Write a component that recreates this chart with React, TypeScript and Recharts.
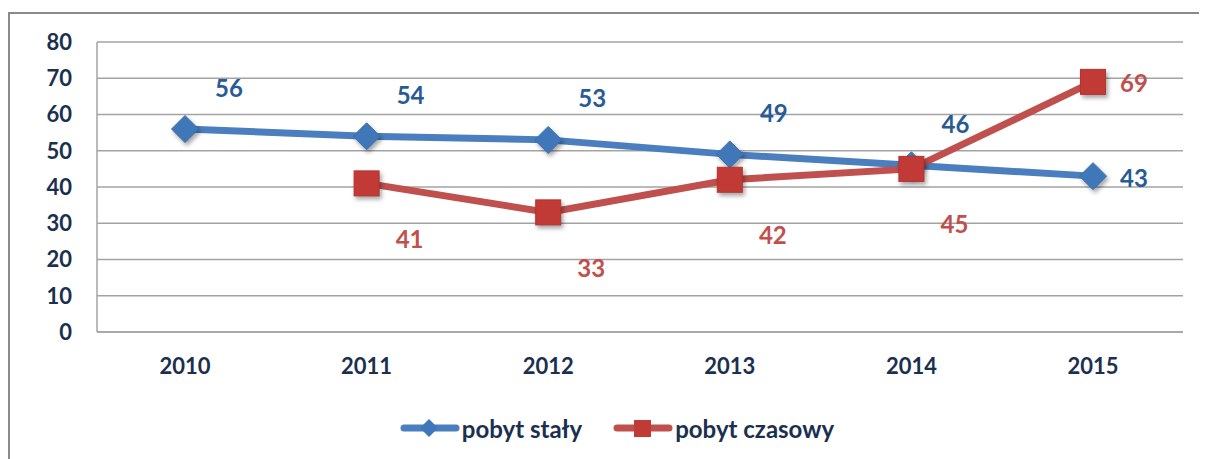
import React from 'react';
import { LineChart, Line, XAxis, YAxis, CartesianGrid, Legend, LabelList } from 'recharts';

const years = ['2010', '2011', '2012', '2013', '2014', '2015'];
const pobytStaly = [56, 54, 53, 49, 46, 43];
const pobytCzasowy: (number | null)[] = [null, 41, 33, 42, 45, 69];
const yTicks = [0, 10, 20, 30, 40, 50, 60, 70, 80];
const seriesOrder = ['staly', 'czasowy'];

const data = years.map((y, i) => ({ year: y, staly: pobytStaly[i], czasowy: pobytCzasowy[i] }));

const FONT = 'Lato, "Open Sans", sans-serif';
const TEXT = '#1b2f4f';
const BLUE = '#4a7ebf';
const RED = '#c0504d';
const BLUE_LABEL = '#285a96';
const RED_LABEL = '#c0504d';
const LAST = years.length - 1;

const shadow = { filter: 'drop-shadow(2px 3px 2px rgba(0,0,0,0.35))' };

const Diamond = (props: any) => {
  const { cx, cy, index } = props;
  if (cx == null || cy == null || props.value == null) return <g key={`d${index}`} />;
  const r = 13.5;
  return (
    <polygon
      key={`d${index}`}
      points={`${cx},${cy - r} ${cx + r},${cy} ${cx},${cy + r} ${cx - r},${cy}`}
      fill="#3f77b8"
      stroke="#3a6eae"
      strokeWidth={1}
      style={shadow}
    />
  );
};

const Square = (props: any) => {
  const { cx, cy, index } = props;
  if (cx == null || cy == null || props.value == null) return <g key={`s${index}`} />;
  const h = 12.5;
  return (
    <rect
      key={`s${index}`}
      x={cx - h}
      y={cy - h}
      width={h * 2}
      height={h * 2}
      fill="#c23a36"
      stroke="#b33431"
      strokeWidth={1}
      style={shadow}
    />
  );
};

const makeLabel = (color: string, dx: number, dy: number) => (props: any) => {
  const { x, y, value, index } = props;
  if (value == null || x == null || y == null) return null;
  const isLast = index === LAST;
  return (
    <text
      x={isLast ? x + 27 : x + dx}
      y={isLast ? y + 1 : y + dy}
      textAnchor={isLast ? 'start' : 'middle'}
      dominantBaseline="central"
      fill={color}
      fontFamily={FONT}
      fontWeight={700}
      fontSize={24}
    >
      {value}
    </text>
  );
};

const renderLegend = (props: any) => {
  const payload = [...(props.payload || [])].sort(
    (a: any, b: any) => seriesOrder.indexOf(a.dataKey) - seriesOrder.indexOf(b.dataKey)
  );
  return (
    <div
      style={{
        display: 'flex',
        justifyContent: 'center',
        alignItems: 'center',
        height: 30,
        paddingLeft: 14,
        fontFamily: FONT,
        fontWeight: 700,
        fontSize: 24,
        color: TEXT,
      }}
    >
      {payload.map((p: any, i: number) => (
        <div key={i} style={{ display: 'flex', alignItems: 'center', marginLeft: i === 0 ? 0 : 31 }}>
          <svg width={60} height={22} style={{ marginRight: 2 }}>
            <line x1={4} y1={11} x2={56} y2={11} stroke={p.color} strokeWidth={7} strokeLinecap="round" />
            {p.dataKey === 'staly' ? (
              <polygon points="29,2 38,11 29,20 20,11" fill="#3f77b8" />
            ) : (
              <rect x={21} y={3} width={17} height={17} fill="#c23a36" />
            )}
          </svg>
          <span>{p.value}</span>
        </div>
      ))}
    </div>
  );
};

export default function App() {
  return (
    <div style={{ position: 'relative', width: 1199, height: 451, overflow: 'hidden' }}>
      <div
        style={{
          position: 'absolute',
          left: 0,
          top: 4,
          width: 1300,
          height: 600,
          borderLeft: '2px solid #8a8a8a',
          borderTop: '2px solid #8a8a8a',
        }}
      />
      <div style={{ position: 'absolute', left: 0, top: 0 }}>
        <LineChart width={1199} height={451} data={data} margin={{ top: 34, right: 24, bottom: 16, left: 29 }}>
          <CartesianGrid vertical={false} stroke="#a3a3a3" strokeWidth={1.5} />
          <XAxis
            dataKey="year"
            padding={{ left: 88, right: 90 }}
            tickLine={false}
            tickSize={0}
            tickMargin={26}
            height={81}
            axisLine={{ stroke: '#a3a3a3', strokeWidth: 1.5 }}
            tick={{ fill: TEXT, fontFamily: FONT, fontWeight: 700, fontSize: 22 }}
            interval={0}
          />
          <YAxis
            domain={[0, 80]}
            ticks={yTicks}
            width={60}
            tickLine={false}
            tickSize={0}
            tickMargin={25}
            axisLine={{ stroke: '#a3a3a3', strokeWidth: 1.5 }}
            tick={{ fill: TEXT, fontFamily: FONT, fontWeight: 700, fontSize: 22 }}
            interval={0}
          />
          <Legend verticalAlign="bottom" height={30} content={renderLegend} />
          <Line
            type="linear"
            dataKey="staly"
            name="pobyt stały"
            stroke={BLUE}
            strokeWidth={7}
            strokeLinecap="round"
            dot={Diamond}
            activeDot={false}
            isAnimationActive={false}
          >
            <LabelList dataKey="staly" content={makeLabel(BLUE_LABEL, 44, -42)} />
          </Line>
          <Line
            type="linear"
            dataKey="czasowy"
            name="pobyt czasowy"
            stroke={RED}
            strokeWidth={7}
            strokeLinecap="round"
            dot={Square}
            activeDot={false}
            isAnimationActive={false}
          >
            <LabelList dataKey="czasowy" content={makeLabel(RED_LABEL, 43, 55)} />
          </Line>
        </LineChart>
      </div>
    </div>
  );
}
